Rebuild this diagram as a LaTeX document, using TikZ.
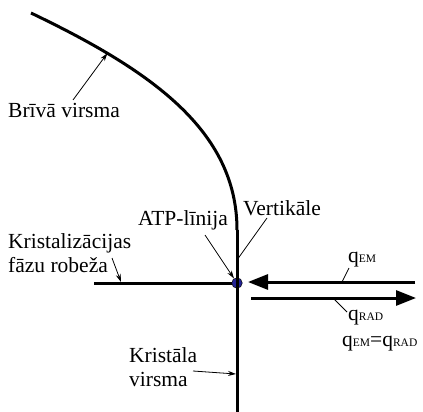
\documentclass[tikz,border=0pt]{standalone}
\usepackage{fontspec}
\setmainfont{Liberation Serif}
\usetikzlibrary{arrows.meta}
\definecolor{dotblue}{RGB}{35,35,150}
\begin{document}
\begin{tikzpicture}[x=1pt,y=-1pt,
  lbl/.style={inner sep=0pt, font=\fontsize{21.5}{24.5}\selectfont},
  mainline/.style={line width=3pt},
  lead/.style={line width=0.8pt},
  leadarrow/.style={lead, -{Stealth[length=8pt,width=5pt]}},
  flux/.style={line width=3pt, -{Triangle[length=20pt,width=15pt]}},
  tpdot/.style={circle, fill=dotblue, draw=black, line width=0.5pt, inner sep=0pt, minimum size=10.5pt}
]
\useasboundingbox (0,0) rectangle (423,412);
\newcommand{\smc}[1]{{\fontsize{11.5}{12}\selectfont #1}}
% free surface curve
\draw[mainline] (31,13) .. controls (150,70) and (237,130) .. (237,230)
  coordinate[pos=0.23] (bvtip) coordinate[pos=1] (cvend);
\coordinate (bottom) at (237,412);
\coordinate (hleft) at (94,283);
\node[tpdot] (dot) at (237,283) {};
\draw[mainline] (cvend) -- (bottom);
\draw[mainline] (hleft) -- (dot);
% coordinates on lines
\coordinate (verttip) at (237,260);
\coordinate (kfztip) at (121,282);
\coordinate (kvtip) at (236,374);
% flux arrows
\coordinate (emstart) at (415,282);
\coordinate (emend) at (248,282);
\coordinate (radstart) at (251,298);
\coordinate (radend) at (416,298);
\draw[flux] (emstart) -- (emend);
\draw[flux] (radstart) -- (radend);
% labels
\node[lbl, anchor=base west] (bv) at (8,117) {Brīvā virsma};
\node[lbl, anchor=base west] (atp) at (138,225) {ATP-līnija};
\node[lbl, anchor=base west] (vert) at (243,215) {Vertikāle};
\node[lbl, anchor=north west, align=left] (kfz) at (8,233) {Kristalizācijas\\fāzu robeža};
\node[lbl, anchor=north west, align=left] (kv) at (129,347) {Kristāla\\virsma};
\node[lbl, anchor=base west] (qem) at (348,262) {q\smc{EM}};
\node[lbl, anchor=base west] (qrad) at (348,320) {q\smc{RAD}};
\node[lbl, anchor=base west] (qeq) at (342,346) {q\smc{EM}=q\smc{RAD}};
% leaders
\draw[leadarrow] (73,100) -- (bvtip);
\draw[leadarrow] (205,235) -- (dot);
\draw[lead] (267,218) -- (verttip);
\draw[leadarrow] (112,258) -- (kfztip);
\draw[leadarrow] (193,371) -- (kvtip);
\draw[lead] (349,268) -- (342,282);
\draw[lead] (333,298) -- (347,312);
\end{tikzpicture}
\end{document}
